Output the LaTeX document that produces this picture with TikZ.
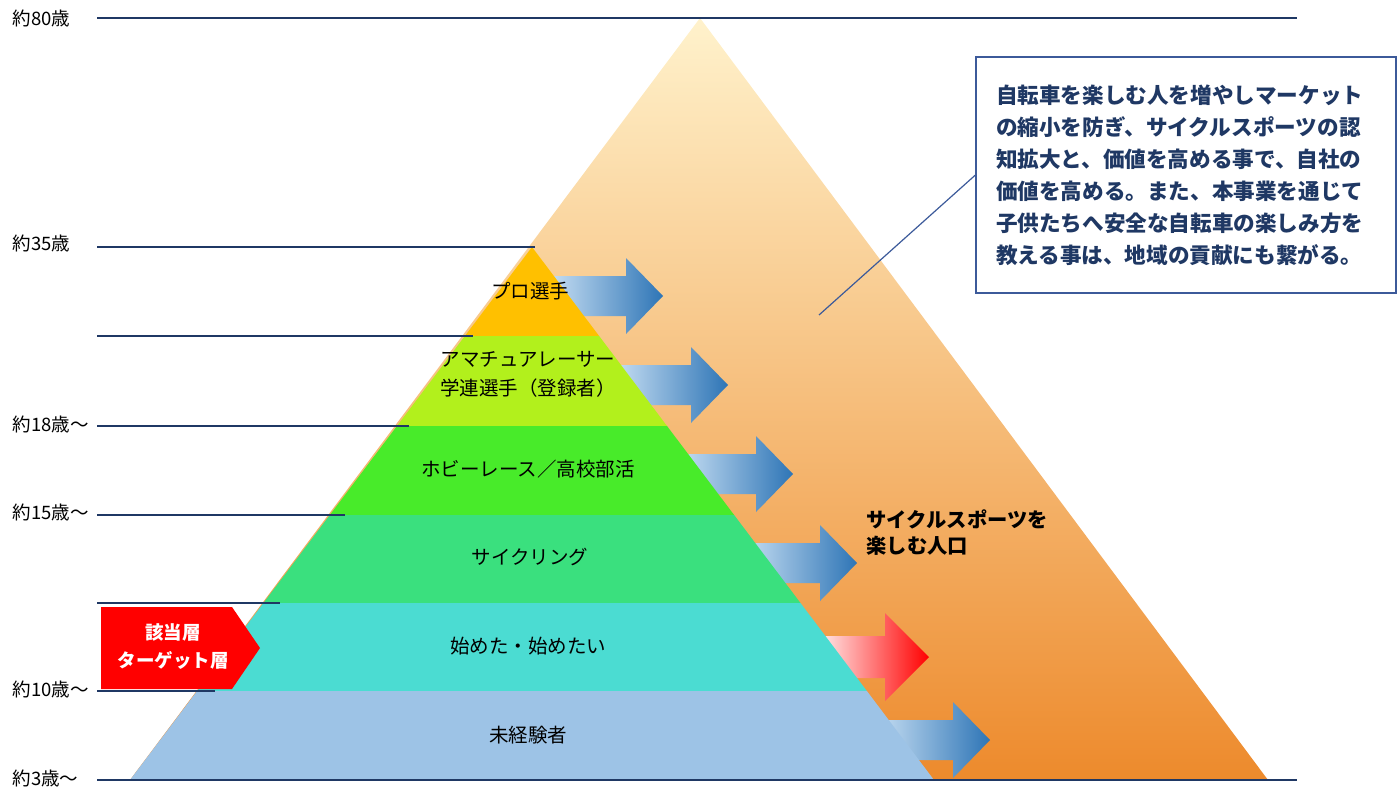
\documentclass[tikz,border=0pt]{standalone}
\usepackage{fontspec}
\setmainfont{Noto Sans CJK JP}
\usetikzlibrary{positioning,calc}
\definecolor{navy}{HTML}{1F3864}
\definecolor{boxline}{HTML}{3C5A9A}
\definecolor{peach}{HTML}{FFF2CC}
\definecolor{deeporange}{HTML}{ED8A2C}
\definecolor{pro}{HTML}{FFC000}
\definecolor{amateur}{HTML}{B2F01C}
\definecolor{hobby}{HTML}{48EB2A}
\definecolor{cycling}{HTML}{3AE07E}
\definecolor{starter}{HTML}{4BDCD2}
\definecolor{novice}{HTML}{9DC3E6}
\definecolor{arrowlight}{HTML}{C5DDF2}
\definecolor{arrowdark}{HTML}{2E75B6}
\definecolor{tagred}{HTML}{FF0000}

\begin{document}
\begin{tikzpicture}[x=1pt,y=-1pt,
    agerule/.style={navy,line width=1.2pt},
    agelabel/.style={anchor=west,font=\fontsize{18.5}{20}\selectfont},
    layertext/.style={font=\fontsize{19.5}{29}\selectfont,align=center},
    calloutbox/.style={draw=boxline,line width=1.2pt,fill=white,minimum width=420,minimum height=236,
      text width=380,align=left,text=navy,font=\fontsize{21.6}{32}\selectfont\bfseries}]
  \useasboundingbox (0,0) rectangle (1400,804);
  % whole population
  \shade[top color=peach,bottom color=deeporange] (700,18) -- (1268,780) -- (130,780) -- cycle;
  % outflow arrows
  \foreach \tx/\ty/\hh/\sh/\hl/\lc/\rc in {663/296/38/20/37/arrowlight/arrowdark,
      728/385/38/20/37/arrowlight/arrowdark, 793/474/38/20/37/arrowlight/arrowdark,
      857/563/38/20/37/arrowlight/arrowdark, 929/657/44/21/44/white/tagred,
      990/740/38/20/37/arrowlight/arrowdark}
    \shade[left color=\lc,right color=\rc] (\tx-\hl-75,\ty-\sh) -- (\tx-\hl,\ty-\sh) -- (\tx-\hl,\ty-\hh)
      -- (\tx,\ty) -- (\tx-\hl,\ty+\hh) -- (\tx-\hl,\ty+\sh) -- (\tx-\hl-75,\ty+\sh) -- cycle;
  % pyramid layers
  \coordinate (apex) at (532,247);
  \coordinate (bl) at (130,780);
  \coordinate (br) at (934,780);
  \foreach \a/\b/\col in {247/336/pro,336/426/amateur,426/515/hobby,515/603/cycling,603/691/starter,691/780/novice}
    \fill[\col] ($(apex)!{(\a-247)/533}!(bl)$) -- ($(apex)!{(\a-247)/533}!(br)$)
      -- ($(apex)!{(\b-247)/533}!(br)$) -- ($(apex)!{(\b-247)/533}!(bl)$) -- cycle;
  \node[layertext] (prolbl) at (530,291) {プロ選手};
  \node[layertext] (amalbl) at (528,374) {アマチュアレーサー\\学連選手（登録者）};
  \node[layertext] (hobbylbl) at (528,469) {ホビーレース／高校部活};
  \node[layertext] (cyclelbl) at (530,557) {サイクリング};
  \node[layertext] (startlbl) at (528,646) {始めた・始めたい};
  \node[layertext] (novicelbl) at (528,735) {未経験者};
  % age rules
  \foreach \y/\xe in {18/1297,247/535,336/473,426/409,515/345,603/280,691/215,780/1297}
    \draw[agerule] (97,\y) -- (\xe,\y);
  \node[agelabel] (age80) at (9,18) {約80歳};
  \node[agelabel] (age35) at (9,243) {約35歳};
  \node[agelabel] (age18) at (9,424) {約18歳～};
  \node[agelabel] (age15) at (9,512) {約15歳～};
  \node[agelabel] (age10) at (9,689) {約10歳～};
  \node[agelabel] (age3) at (9,778) {約3歳～};
  % target tag
  \fill[tagred] (101,607) -- (232,607) -- (260,648) -- (232,689) -- (101,689) -- cycle;
  \node[text=white,align=center,font=\fontsize{18.5}{28}\selectfont\bfseries] (target) at (173,647) {該当層\\ターゲット層};
  \node[anchor=west,align=left,font=\fontsize{20.3}{26}\selectfont\bfseries] (poplbl) at (863,533)
    {サイクルスポーツを\\楽しむ人口};
  % callout
  \node[calloutbox] (goal) at (1186,175) {自転車を楽しむ人を増やしマーケット\\の縮小を防ぎ、サイクルスポーツの認\\知拡大と、価値を高める事で、自社の\\価値を高める。また、本事業を通じて\\子供たちへ安全な自転車の楽しみ方を\\教える事は、地域の貢献にも繋がる。};
  \coordinate (ptr) at (819,315);
  \draw[boxline,line width=1.2pt] (ptr) -- (goal.west);
\end{tikzpicture}
\end{document}
